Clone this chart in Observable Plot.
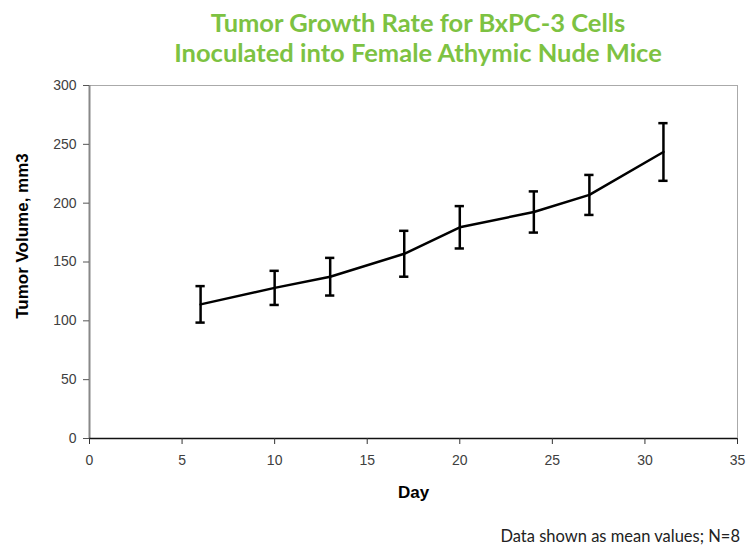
<!DOCTYPE html>
<html>
<head>
<meta charset="utf-8">
<script src="https://cdn.jsdelivr.net/npm/d3@7"></script>
<script src="https://cdn.jsdelivr.net/npm/@observablehq/plot@0.6"></script>
<style>
  html, body { margin: 0; padding: 0; background: #fff; }
  #wrap { width: 752px; height: 551px; position: relative; overflow: hidden; }
  #title { position: absolute; left: 0; top: 7px; width: 836px; text-align: center;
    font-family: Lato, "Open Sans", sans-serif; font-weight: bold; font-size: 25.5px;
    line-height: 30px; color: #7dc242; }
  #chart { position: absolute; left: 0; top: 75px; }
  #caption { position: absolute; right: 12px; top: 526px;
    font-family: Lato, "Open Sans", sans-serif; font-size: 16.5px; color: #222; }
</style>
</head>
<body>
<div id="wrap">
  <div id="title">Tumor Growth Rate for BxPC-3 Cells<br>Inoculated into Female Athymic Nude Mice</div>
  <div id="chart"></div>
  <div id="caption">Data shown as mean values; N=8</div>
</div>
<script>
const days = [6, 10, 13, 17, 20, 24, 27, 31];
const meanVolume = [114, 128, 137.5, 157, 179.5, 192.5, 207, 243.5];
const errVolume = [15.5, 14.5, 16, 19.5, 18, 17.5, 17, 24.5];
const xTicks = [0, 5, 10, 15, 20, 25, 30, 35];
const yTicks = [0, 50, 100, 150, 200, 250, 300];

const data = days.map((d, i) => ({day: d, mean: meanVolume[i], lo: meanVolume[i] - errVolume[i], hi: meanVolume[i] + errVolume[i]}));
const capHalf = 0.25;

const plot = Plot.plot({
  width: 752,
  height: 440,
  marginLeft: 89,
  marginRight: 15,
  marginTop: 10,
  marginBottom: 77,
  style: {fontFamily: "Arial, 'Liberation Sans', sans-serif", fontSize: "14px", color: "#333", background: "#fff"},
  x: {domain: [0, 35], ticks: xTicks, label: null},
  y: {domain: [0, 300], ticks: yTicks, label: null},
  marks: [
    Plot.frame({stroke: "#aaa", strokeWidth: 1}),
    Plot.ruleX([0], {stroke: "#888", strokeWidth: 2}),
    Plot.ruleY([0], {stroke: "#111", strokeWidth: 1.5}),
    Plot.axisY({ticks: yTicks, tickSize: 6, tickPadding: 7, stroke: "#555", fill: "#404040", fontSize: 14}),
    Plot.axisX({ticks: xTicks, tickSize: 6, tickPadding: 11, stroke: "#333", fill: "#404040", fontSize: 14}),
    Plot.text(["Day"], {frameAnchor: "bottom", dy: 54, fontWeight: "bold", fontSize: 17, fill: "#000", lineAnchor: "middle"}),
    Plot.text(["Tumor Volume, mm3"], {frameAnchor: "left", dx: -67, dy: -26, rotate: -90, textAnchor: "middle", lineAnchor: "middle", fontWeight: "bold", fontSize: 17, fill: "#000"}),
    Plot.line(data, {x: "day", y: "mean", stroke: "#000", strokeWidth: 2.5}),
    Plot.ruleX(data, {x: "day", y1: "lo", y2: "hi", stroke: "#000", strokeWidth: 2.5}),
    Plot.ruleY(data, {y: "lo", x1: d => d.day - capHalf, x2: d => d.day + capHalf, stroke: "#000", strokeWidth: 2.5}),
    Plot.ruleY(data, {y: "hi", x1: d => d.day - capHalf, x2: d => d.day + capHalf, stroke: "#000", strokeWidth: 2.5})
  ]
});
document.getElementById("chart").appendChild(plot);
</script>
</body>
</html>
